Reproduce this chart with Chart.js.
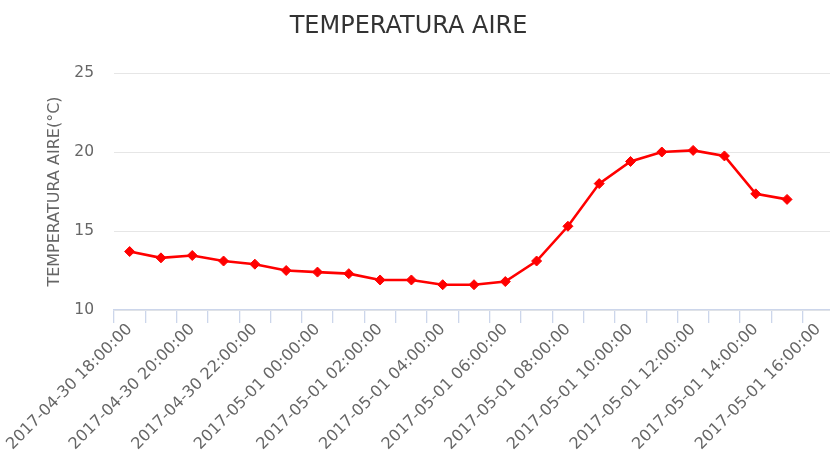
<!DOCTYPE html>
<html>
<head>
<meta charset="utf-8">
<script src="https://cdn.jsdelivr.net/npm/chart.js@4/dist/chart.umd.min.js"></script>
<style>
  html, body { margin: 0; padding: 0; background: #ffffff; overflow: hidden; }
  /* the plot runs a few pixels past the right edge of the frame */
  #wrap { width: 830px; height: 453px; overflow: hidden; }
  #c { display: block; }
</style>
</head>
<body>
<div id="wrap"><canvas id="c" width="834" height="453"></canvas></div>
<script>
// Hourly readings, 2017-04-30 18:00 to 2017-05-01 16:00
const categories = [
  '2017-04-30 18:00:00', '2017-04-30 19:00:00', '2017-04-30 20:00:00',
  '2017-04-30 21:00:00', '2017-04-30 22:00:00', '2017-04-30 23:00:00',
  '2017-05-01 00:00:00', '2017-05-01 01:00:00', '2017-05-01 02:00:00',
  '2017-05-01 03:00:00', '2017-05-01 04:00:00', '2017-05-01 05:00:00',
  '2017-05-01 06:00:00', '2017-05-01 07:00:00', '2017-05-01 08:00:00',
  '2017-05-01 09:00:00', '2017-05-01 10:00:00', '2017-05-01 11:00:00',
  '2017-05-01 12:00:00', '2017-05-01 13:00:00', '2017-05-01 14:00:00',
  '2017-05-01 15:00:00', '2017-05-01 16:00:00'
];

// Air temperature (°C)
const temperatura = [
  13.7, 13.3, 13.45, 13.1, 12.9, 12.5, 12.4, 12.3, 11.9, 11.9, 11.6,
  11.6, 11.8, 13.1, 15.3, 18.0, 19.4, 20.0, 20.1, 19.75, 17.35, 17.0
];

const yTicks = [10, 15, 20, 25];

const font = 'DejaVu Sans';

new Chart(document.getElementById('c'), {
  type: 'line',
  data: {
    labels: categories,
    datasets: [{
      label: 'TEMPERATURA AIRE',
      data: temperatura,
      borderColor: '#ff0000',
      backgroundColor: '#ff0000',
      borderWidth: 2.6,
      pointStyle: 'rectRot',
      pointRadius: 5,
      pointBackgroundColor: '#ff0000',
      pointBorderColor: '#ff0000',
      pointBorderWidth: 1,
      tension: 0,
      fill: false,
      clip: false
    }]
  },
  options: {
    responsive: false,
    animation: false,
    // left side widened so the title sits a little left of centre
    layout: { padding: { left: -17, right: 0, top: 0, bottom: 0 }, autoPadding: false },
    plugins: {
      legend: { display: false },
      tooltip: { enabled: false },
      title: {
        display: true,
        text: 'TEMPERATURA AIRE',
        color: '#333333',
        font: { family: font, size: 24, weight: 'normal' },
        padding: { top: 12, bottom: 32.2 }
      }
    },
    scales: {
      x: {
        type: 'category',
        offset: true,
        afterFit: (s) => {
          s.height = 143;
          s.paddingLeft = 0;
          s.paddingRight = 0;
        },
        grid: {
          offset: true,
          drawOnChartArea: false,
          drawTicks: true,
          tickLength: 13,
          color: '#ccd6eb',
          lineWidth: 1.3
        },
        border: { display: true, color: '#ccd6eb', width: 1.3 },
        ticks: {
          autoSkip: false,
          minRotation: 45,
          maxRotation: 45,
          padding: -3,
          color: '#666666',
          font: { family: font, size: 16 },
          callback: (v, i) => (i % 2 === 0 ? categories[i] : '')
        }
      },
      y: {
        min: yTicks[0],
        max: yTicks[yTicks.length - 1],
        afterFit: (s) => { s.width = 131; },
        afterBuildTicks: (s) => { s.ticks = yTicks.map(v => ({ value: v })); },
        grid: {
          drawTicks: false,
          color: '#e6e6e6',
          lineWidth: 1
        },
        border: { display: false },
        ticks: {
          padding: 20,
          color: '#666666',
          font: { family: font, size: 15.5 }
        },
        title: {
          display: true,
          text: 'TEMPERATURA AIRE(°C)',
          color: '#666666',
          font: { family: font, size: 16 },
          padding: { top: 62, bottom: 0 }
        }
      }
    }
  }
});
</script>
</body>
</html>
